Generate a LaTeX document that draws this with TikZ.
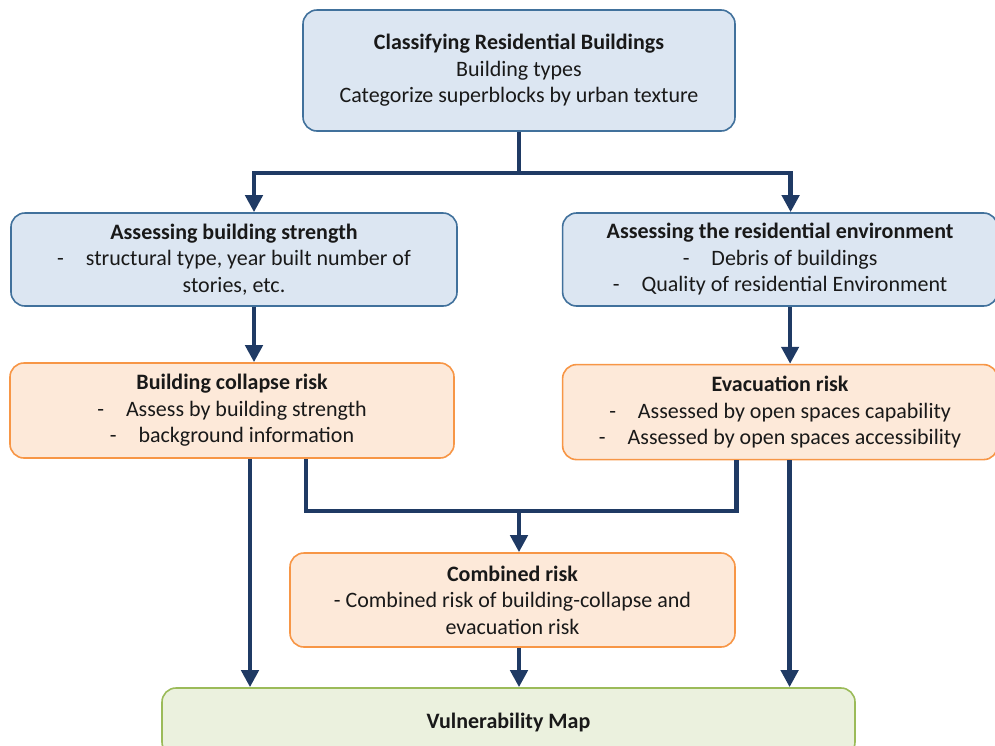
\documentclass[tikz,border=0pt]{standalone}
\usepackage{fontspec}
\setmainfont{Carlito}
\usepackage{tikz}
\usetikzlibrary{arrows.meta, positioning, calc}

\definecolor{bluefill}{HTML}{DCE6F2}
\definecolor{blueline}{HTML}{41719C}
\definecolor{orangefill}{HTML}{FDE9D9}
\definecolor{orangeline}{HTML}{F79646}
\definecolor{greenfill}{HTML}{EBF1DE}
\definecolor{greenline}{HTML}{9BBB59}
\definecolor{navy}{HTML}{1F3A64}

\newcommand{\itm}{-\hspace{1em}}

\begin{document}
\begin{tikzpicture}[
  x=1pt, y=-1pt,
  every node/.style={font=\fontsize{22}{26.5}\selectfont, align=center, text=black!90},
  box/.style={draw, rounded corners=14pt, line width=1.6pt, inner sep=4pt},
  bluebox/.style={box, fill=bluefill, draw=blueline},
  orangebox/.style={box, fill=orangefill, draw=orangeline},
  greenbox/.style={box, fill=greenfill, draw=greenline},
  arr/.style={-{Triangle[width=17pt,length=17pt]}, line width=4.5pt, draw=navy}
]
  \useasboundingbox (0,0) rectangle (995,745);

  \node[bluebox, minimum width=432pt, minimum height=121pt] (cls) at (519,70.5)
       {\textbf{Classifying Residential Buildings}\\Building types\\Categorize superblocks by urban texture};
  \node[bluebox, minimum width=446pt, minimum height=93pt] (strength) at (234,259.5)
       {\textbf{Assessing building strength}\\\itm structural type, year built number of\\stories, etc.};
  \node[bluebox, minimum width=435pt, minimum height=93pt, right=104pt of strength] (env)
       {\textbf{Assessing the residential environment}\\\itm Debris of buildings\\\itm Quality of residential Environment};
  \node[orangebox, minimum width=444pt, minimum height=95pt] (collapse) at (232,410.5)
       {\textbf{Building collapse risk}\\\itm Assess by building strength\\\itm background information};
  \node[orangebox, minimum width=435pt, minimum height=95pt, below=57pt of env] (evac)
       {\textbf{Evacuation risk}\\\itm Assessed by open spaces capability\\\itm Assessed by open spaces accessibility};
  \node[orangebox, minimum width=445pt, minimum height=94pt] (comb) at (512.5,600)
       {\textbf{Combined risk}\\- Combined risk of building-collapse and\\evacuation risk};
  \node[greenbox, minimum width=693pt, minimum height=68pt] (vuln) at (508.5,722)
       {\textbf{Vulnerability Map}};

  \coordinate (split) at (519,173);
  \coordinate (join) at (519,511);

  % first split
  \draw[arr] (cls.south) -- (split) -| ([xshift=20pt]strength.north);
  \draw[arr] (split) -| ([xshift=10.5pt]env.north);
  \draw[arr] ([xshift=20pt]strength.south) -- ([xshift=20pt]strength.south |- collapse.north);
  \draw[arr] ([xshift=10pt]env.south) -- ([xshift=10pt]env.south |- evac.north);

  % risks into combined risk
  \draw[line width=4.5pt, draw=navy] ([xshift=74pt]collapse.south) |- (join) -| ([xshift=-43.5pt]evac.south);
  \draw[arr] (join) -- (join |- comb.north);

  % into the map
  \draw[arr] ([xshift=18pt]collapse.south) -- ([xshift=18pt]collapse.south |- vuln.north);
  \draw[arr] ([xshift=9.5pt]evac.south) -- ([xshift=9.5pt]evac.south |- vuln.north);
  \draw[arr] (comb.south -| join) -- (join |- vuln.north);
\end{tikzpicture}
\end{document}
